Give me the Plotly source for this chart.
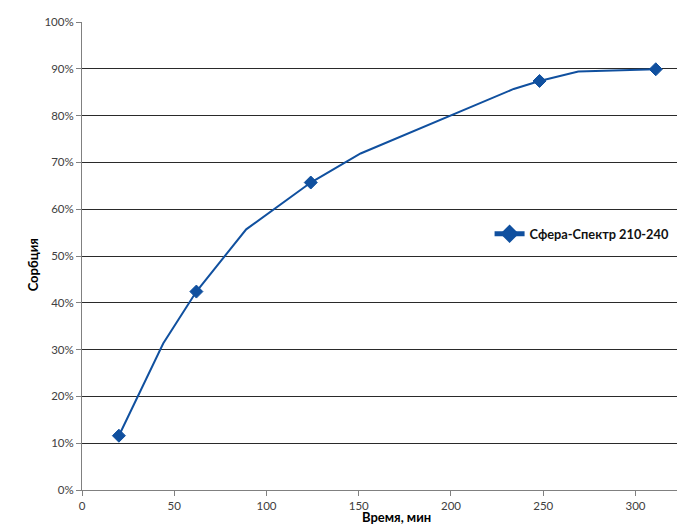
import plotly.graph_objects as go

time_min = [20, 44, 62, 89, 124, 151, 234, 248, 269, 311]
sorption = [0.116, 0.313, 0.424, 0.557, 0.657, 0.719, 0.857, 0.874, 0.894, 0.899]
marker_sizes = [10, 0, 10, 0, 10, 0, 0, 10, 0, 10]
series_name = "Сфера-Спектр 210-240"

color = "#10509F"
font_family = "Lato, 'Open Sans', sans-serif"

fig = go.Figure()
fig.add_trace(go.Scatter(
    x=time_min, y=sorption, mode="lines+markers", name="<b>" + series_name + "</b>",
    line=dict(color=color, width=2),
    marker=dict(symbol="diamond", size=marker_sizes, color=color, opacity=1,
                line=dict(width=1, color=color)),
))

fig.update_layout(
    width=677, height=524,
    margin=dict(l=82, r=0, t=22, b=34),
    paper_bgcolor="white", plot_bgcolor="white",
    font=dict(family=font_family, size=11, color="#404040"),
    showlegend=True,
    legend=dict(x=0.685, xanchor="left", y=0.547, yanchor="middle",
                font=dict(size=12.8, color="#111111"), bgcolor="rgba(0,0,0,0)",
                itemsizing="constant", itemwidth=30),
    xaxis=dict(range=[0, 322.5], tickvals=[0, 50, 100, 150, 200, 250, 300],
               showgrid=False, zeroline=False, showline=True, linecolor="#808080",
               linewidth=1, ticks="outside", ticklen=5, tickcolor="#808080",
               tickfont=dict(size=11.5, color="#404040")),
    yaxis=dict(range=[0, 1.0], tickvals=[i / 10 for i in range(11)], tickformat=".0%",
               showgrid=True, gridcolor="#2a2a2a", gridwidth=1, zeroline=False,
               showline=True, linecolor="#808080", linewidth=1, ticks="outside",
               ticklen=5, tickcolor="#808080", tickfont=dict(size=11.5, color="#404040")),
    annotations=[
        dict(text="<b>Время, мин</b>", xref="paper", yref="paper",
             x=(396 - 82) / 595, y=-0.057, xanchor="center", yanchor="middle",
             showarrow=False, font=dict(size=13, color="#000000")),
        dict(text="<b>Сорбция</b>", xref="paper", yref="paper",
             x=(33 - 82) / 595, y=0.48, xanchor="center", yanchor="middle",
             textangle=-90, showarrow=False, font=dict(size=13, color="#000000")),
    ],
)

fig.write_html("out.html", config={"displayModeBar": False},
               post_script="document.body.style.margin='0';")
